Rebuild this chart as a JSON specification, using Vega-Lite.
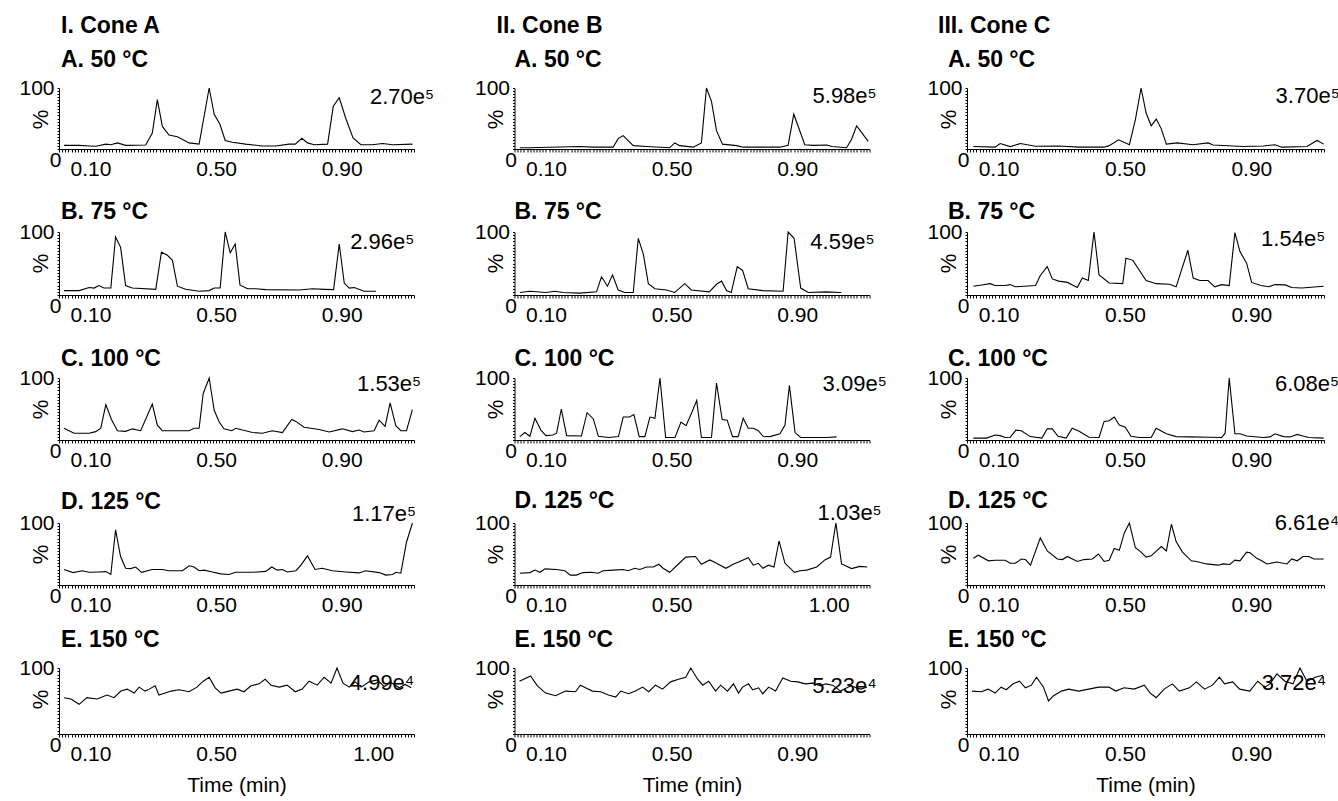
{
  "$schema": "https://vega.github.io/schema/vega-lite/v6.json",
  "padding": {"left": 18, "top": 15, "right": 0, "bottom": 5},
  "config": {
    "font": "Liberation Sans",
    "view": {"stroke": null},
    "axis": {"domainColor": "black", "tickColor": "black", "labelColor": "black", "titleColor": "black", "grid": false, "labelFont": "Liberation Sans", "titleFont": "Liberation Sans", "domainWidth": 1, "tickWidth": 1},
    "axisX": {"tickCount": 113, "tickSize": 3, "labelFontSize": 21, "labelPadding": 6, "labelOverlap": false, "labelFlush": false, "labelBound": false, "titleFontSize": 21, "titleFontWeight": "normal", "titlePadding": 10, "labelAngle": 0},
    "axisY": {"tickCount": 20, "tickSize": 2, "labelFontSize": 21, "labelOverlap": false, "labelFlush": false, "labelBound": false, "titleFontSize": 22, "titleFontWeight": "normal", "titleX": -7, "titleY": 31, "titleAngle": -90, "titleAlign": "center"},
    "title": {"fontSize": 23, "fontWeight": "bold", "anchor": "start", "frame": "group", "color": "black", "offset": 5, "font": "Liberation Sans"},
    "text": {"font": "Liberation Sans", "color": "black", "fontSize": 22}
  },
  "datasets": {
    "IA": [{"t":0.016,"p":6},{"t":0.064,"p":6},{"t":0.096,"p":5},{"t":0.118,"p":4.5},{"t":0.149,"p":8},{"t":0.165,"p":7},{"t":0.186,"p":10},{"t":0.212,"p":6},{"t":0.276,"p":6.5},{"t":0.297,"p":26},{"t":0.313,"p":81},{"t":0.329,"p":37},{"t":0.350,"p":23},{"t":0.377,"p":20},{"t":0.414,"p":10},{"t":0.446,"p":8},{"t":0.478,"p":100},{"t":0.494,"p":57},{"t":0.512,"p":41},{"t":0.529,"p":14},{"t":0.552,"p":11},{"t":0.594,"p":8},{"t":0.647,"p":5},{"t":0.690,"p":5},{"t":0.732,"p":8},{"t":0.752,"p":8},{"t":0.773,"p":17.5},{"t":0.791,"p":10},{"t":0.812,"p":7},{"t":0.855,"p":8},{"t":0.873,"p":70},{"t":0.892,"p":84},{"t":0.913,"p":50},{"t":0.936,"p":18},{"t":0.961,"p":7},{"t":0.997,"p":7},{"t":1.030,"p":9},{"t":1.062,"p":7},{"t":1.125,"p":8}],
    "IIA": [{"t":0.017,"p":2},{"t":0.045,"p":2},{"t":0.208,"p":4},{"t":0.25,"p":3},{"t":0.314,"p":3},{"t":0.330,"p":17},{"t":0.346,"p":22},{"t":0.378,"p":5.5},{"t":0.42,"p":4},{"t":0.494,"p":2},{"t":0.510,"p":10},{"t":0.526,"p":5.5},{"t":0.569,"p":3},{"t":0.595,"p":10},{"t":0.611,"p":100},{"t":0.627,"p":78},{"t":0.643,"p":30},{"t":0.662,"p":8},{"t":0.707,"p":5.5},{"t":0.728,"p":3},{"t":0.845,"p":3},{"t":0.871,"p":6},{"t":0.889,"p":57},{"t":0.924,"p":7},{"t":0.951,"p":6},{"t":0.994,"p":6.5},{"t":1.01,"p":4},{"t":1.057,"p":2},{"t":1.073,"p":16},{"t":1.089,"p":38},{"t":1.126,"p":12.5}],
    "IIIA": [{"t":0.020,"p":4},{"t":0.089,"p":3},{"t":0.105,"p":9},{"t":0.137,"p":4},{"t":0.169,"p":9},{"t":0.217,"p":4.5},{"t":0.29,"p":5},{"t":0.355,"p":3},{"t":0.434,"p":3},{"t":0.45,"p":5.5},{"t":0.480,"p":15},{"t":0.514,"p":7},{"t":0.533,"p":48},{"t":0.551,"p":100},{"t":0.567,"p":59},{"t":0.583,"p":38},{"t":0.599,"p":49},{"t":0.615,"p":33},{"t":0.631,"p":8},{"t":0.666,"p":10},{"t":0.715,"p":7},{"t":0.763,"p":10},{"t":0.779,"p":6.5},{"t":0.875,"p":4},{"t":0.938,"p":5},{"t":0.975,"p":7},{"t":0.996,"p":3},{"t":1.076,"p":4},{"t":1.108,"p":14},{"t":1.129,"p":8}],
    "IB": [{"t":0.016,"p":7},{"t":0.064,"p":7},{"t":0.096,"p":12},{"t":0.112,"p":11},{"t":0.127,"p":15},{"t":0.143,"p":11},{"t":0.165,"p":11},{"t":0.180,"p":92},{"t":0.196,"p":76},{"t":0.212,"p":15},{"t":0.233,"p":11},{"t":0.308,"p":9},{"t":0.326,"p":68},{"t":0.345,"p":63},{"t":0.361,"p":55},{"t":0.377,"p":14},{"t":0.403,"p":9},{"t":0.446,"p":6},{"t":0.478,"p":7},{"t":0.494,"p":11},{"t":0.513,"p":11},{"t":0.529,"p":100},{"t":0.545,"p":67},{"t":0.561,"p":81},{"t":0.576,"p":16},{"t":0.600,"p":10},{"t":0.626,"p":10},{"t":0.658,"p":8.5},{"t":0.764,"p":8},{"t":0.807,"p":10},{"t":0.844,"p":9},{"t":0.874,"p":8.5},{"t":0.892,"p":81},{"t":0.908,"p":19},{"t":0.924,"p":11},{"t":0.94,"p":12},{"t":0.971,"p":6},{"t":1.009,"p":6}],
    "IIB": [{"t":0.017,"p":4},{"t":0.049,"p":6},{"t":0.1,"p":4},{"t":0.128,"p":6},{"t":0.155,"p":4},{"t":0.208,"p":3},{"t":0.261,"p":5},{"t":0.277,"p":29},{"t":0.296,"p":14},{"t":0.312,"p":32},{"t":0.330,"p":8},{"t":0.351,"p":4},{"t":0.378,"p":4},{"t":0.394,"p":90},{"t":0.410,"p":65},{"t":0.426,"p":18},{"t":0.447,"p":10},{"t":0.484,"p":8},{"t":0.51,"p":4},{"t":0.542,"p":18},{"t":0.563,"p":8},{"t":0.62,"p":5},{"t":0.643,"p":17},{"t":0.659,"p":22},{"t":0.675,"p":7},{"t":0.69,"p":4},{"t":0.709,"p":45},{"t":0.726,"p":39},{"t":0.744,"p":10},{"t":0.79,"p":7},{"t":0.855,"p":6},{"t":0.871,"p":100},{"t":0.890,"p":90},{"t":0.911,"p":11},{"t":0.935,"p":4},{"t":0.994,"p":5},{"t":1.036,"p":4},{"t":1.04,"p":4}],
    "IIIB": [{"t":0.020,"p":14},{"t":0.047,"p":16},{"t":0.073,"p":18},{"t":0.089,"p":15},{"t":0.121,"p":15},{"t":0.137,"p":16.5},{"t":0.153,"p":13},{"t":0.217,"p":15},{"t":0.232,"p":31},{"t":0.254,"p":45},{"t":0.270,"p":25.5},{"t":0.29,"p":22},{"t":0.318,"p":20},{"t":0.349,"p":12},{"t":0.365,"p":27},{"t":0.384,"p":23},{"t":0.402,"p":100},{"t":0.418,"p":32},{"t":0.450,"p":19},{"t":0.493,"p":18},{"t":0.503,"p":58.5},{"t":0.525,"p":55},{"t":0.567,"p":23},{"t":0.599,"p":18},{"t":0.641,"p":17},{"t":0.662,"p":13},{"t":0.699,"p":71},{"t":0.716,"p":27},{"t":0.737,"p":23},{"t":0.763,"p":23},{"t":0.784,"p":13},{"t":0.806,"p":16.5},{"t":0.83,"p":15},{"t":0.848,"p":99},{"t":0.864,"p":69},{"t":0.885,"p":50.5},{"t":0.901,"p":20},{"t":0.93,"p":15},{"t":0.955,"p":13},{"t":0.975,"p":16.5},{"t":1.007,"p":16},{"t":1.028,"p":12},{"t":1.06,"p":11},{"t":1.129,"p":14}],
    "IC": [{"t":0.016,"p":19},{"t":0.048,"p":11},{"t":0.096,"p":11},{"t":0.117,"p":13.5},{"t":0.133,"p":19},{"t":0.149,"p":57},{"t":0.167,"p":33},{"t":0.186,"p":15},{"t":0.212,"p":14},{"t":0.234,"p":18},{"t":0.260,"p":15},{"t":0.297,"p":58},{"t":0.313,"p":24},{"t":0.329,"p":15},{"t":0.382,"p":15},{"t":0.414,"p":15},{"t":0.430,"p":19},{"t":0.446,"p":19},{"t":0.459,"p":75},{"t":0.478,"p":100},{"t":0.494,"p":48},{"t":0.51,"p":29},{"t":0.525,"p":18},{"t":0.55,"p":15},{"t":0.563,"p":19},{"t":0.584,"p":16},{"t":0.616,"p":12},{"t":0.647,"p":11},{"t":0.679,"p":15},{"t":0.711,"p":12},{"t":0.741,"p":33},{"t":0.754,"p":30},{"t":0.780,"p":20.5},{"t":0.828,"p":17},{"t":0.860,"p":13},{"t":0.902,"p":18},{"t":0.934,"p":13.5},{"t":0.955,"p":16},{"t":0.971,"p":13},{"t":1.003,"p":15},{"t":1.019,"p":32},{"t":1.038,"p":22},{"t":1.054,"p":60},{"t":1.072,"p":23},{"t":1.088,"p":15},{"t":1.106,"p":15},{"t":1.125,"p":49}],
    "IIC": [{"t":0.017,"p":5.5},{"t":0.033,"p":12},{"t":0.049,"p":6},{"t":0.065,"p":35},{"t":0.084,"p":16},{"t":0.1,"p":7},{"t":0.122,"p":8},{"t":0.134,"p":11},{"t":0.149,"p":50},{"t":0.166,"p":7},{"t":0.213,"p":6.5},{"t":0.231,"p":44},{"t":0.251,"p":34},{"t":0.267,"p":6},{"t":0.299,"p":4},{"t":0.331,"p":5.5},{"t":0.346,"p":37},{"t":0.366,"p":37},{"t":0.380,"p":41},{"t":0.397,"p":5.5},{"t":0.415,"p":5.5},{"t":0.431,"p":37},{"t":0.447,"p":35},{"t":0.463,"p":100},{"t":0.481,"p":4},{"t":0.511,"p":4},{"t":0.530,"p":29},{"t":0.546,"p":23},{"t":0.564,"p":44},{"t":0.580,"p":64},{"t":0.595,"p":4},{"t":0.627,"p":4},{"t":0.643,"p":92},{"t":0.661,"p":33},{"t":0.677,"p":32},{"t":0.694,"p":5.5},{"t":0.712,"p":5.5},{"t":0.728,"p":35},{"t":0.744,"p":19},{"t":0.760,"p":19},{"t":0.776,"p":15},{"t":0.791,"p":6},{"t":0.813,"p":5.5},{"t":0.845,"p":10},{"t":0.861,"p":24},{"t":0.875,"p":88},{"t":0.893,"p":12},{"t":0.911,"p":4},{"t":0.951,"p":4},{"t":0.994,"p":4},{"t":1.025,"p":5}],
    "IIIC": [{"t":0.020,"p":3},{"t":0.062,"p":3},{"t":0.089,"p":8},{"t":0.105,"p":7},{"t":0.121,"p":4},{"t":0.137,"p":4.5},{"t":0.155,"p":16},{"t":0.172,"p":15},{"t":0.2,"p":5.5},{"t":0.237,"p":3},{"t":0.254,"p":18},{"t":0.270,"p":18},{"t":0.288,"p":6},{"t":0.314,"p":3},{"t":0.333,"p":19},{"t":0.355,"p":14},{"t":0.386,"p":4.5},{"t":0.418,"p":4},{"t":0.434,"p":30},{"t":0.450,"p":31},{"t":0.466,"p":37},{"t":0.482,"p":24},{"t":0.501,"p":20.5},{"t":0.519,"p":6},{"t":0.546,"p":4},{"t":0.583,"p":4},{"t":0.599,"p":19},{"t":0.631,"p":10},{"t":0.662,"p":5.5},{"t":0.705,"p":5},{"t":0.768,"p":4.5},{"t":0.806,"p":4},{"t":0.817,"p":11},{"t":0.830,"p":100},{"t":0.848,"p":10},{"t":0.864,"p":10},{"t":0.885,"p":6.5},{"t":0.938,"p":4},{"t":0.959,"p":5},{"t":0.975,"p":10},{"t":1.002,"p":5.5},{"t":1.023,"p":5},{"t":1.045,"p":9},{"t":1.06,"p":7},{"t":1.082,"p":4},{"t":1.129,"p":3}],
    "ID": [{"t":0.016,"p":25},{"t":0.045,"p":20},{"t":0.074,"p":23},{"t":0.096,"p":20.5},{"t":0.127,"p":21},{"t":0.149,"p":21.6},{"t":0.165,"p":17},{"t":0.180,"p":89},{"t":0.196,"p":46},{"t":0.212,"p":27},{"t":0.228,"p":26.5},{"t":0.244,"p":29},{"t":0.263,"p":20.5},{"t":0.297,"p":25},{"t":0.329,"p":25},{"t":0.350,"p":23},{"t":0.393,"p":23},{"t":0.414,"p":31},{"t":0.430,"p":29},{"t":0.446,"p":23},{"t":0.462,"p":24},{"t":0.488,"p":21},{"t":0.515,"p":18},{"t":0.541,"p":17},{"t":0.562,"p":20.5},{"t":0.616,"p":20.5},{"t":0.658,"p":22},{"t":0.677,"p":29},{"t":0.695,"p":24},{"t":0.711,"p":25},{"t":0.727,"p":21},{"t":0.754,"p":23},{"t":0.770,"p":32},{"t":0.791,"p":47},{"t":0.815,"p":25},{"t":0.838,"p":27},{"t":0.870,"p":23},{"t":0.913,"p":21},{"t":0.955,"p":19.5},{"t":0.976,"p":23},{"t":1.019,"p":20},{"t":1.040,"p":16},{"t":1.062,"p":17},{"t":1.072,"p":20.5},{"t":1.088,"p":19},{"t":1.106,"p":69},{"t":1.125,"p":100}],
    "IID": [{"t":0.017,"p":19},{"t":0.049,"p":20},{"t":0.065,"p":24},{"t":0.081,"p":20.5},{"t":0.097,"p":26},{"t":0.134,"p":25},{"t":0.160,"p":23},{"t":0.178,"p":16},{"t":0.197,"p":16},{"t":0.218,"p":20},{"t":0.245,"p":20.5},{"t":0.266,"p":19},{"t":0.282,"p":23},{"t":0.314,"p":24},{"t":0.346,"p":25},{"t":0.362,"p":23},{"t":0.383,"p":27},{"t":0.399,"p":25},{"t":0.420,"p":29},{"t":0.442,"p":29},{"t":0.459,"p":33.5},{"t":0.473,"p":27},{"t":0.494,"p":20.5},{"t":0.521,"p":33.5},{"t":0.545,"p":45},{"t":0.576,"p":46},{"t":0.595,"p":33.5},{"t":0.622,"p":40.5},{"t":0.643,"p":35},{"t":0.673,"p":27},{"t":0.696,"p":33.5},{"t":0.717,"p":38},{"t":0.744,"p":44},{"t":0.760,"p":32},{"t":0.776,"p":35},{"t":0.791,"p":27},{"t":0.808,"p":32},{"t":0.826,"p":29},{"t":0.842,"p":71},{"t":0.861,"p":35},{"t":0.891,"p":20.5},{"t":0.909,"p":23},{"t":0.930,"p":24},{"t":0.962,"p":29},{"t":0.988,"p":40.5},{"t":1.006,"p":45},{"t":1.023,"p":100},{"t":1.041,"p":34},{"t":1.073,"p":26.5},{"t":1.099,"p":30},{"t":1.123,"p":29}],
    "IIID": [{"t":0.020,"p":43},{"t":0.036,"p":48},{"t":0.068,"p":39},{"t":0.089,"p":40},{"t":0.121,"p":40},{"t":0.137,"p":35},{"t":0.153,"p":35},{"t":0.172,"p":42},{"t":0.185,"p":41},{"t":0.201,"p":32},{"t":0.232,"p":76},{"t":0.254,"p":55},{"t":0.286,"p":42},{"t":0.302,"p":41},{"t":0.318,"p":46},{"t":0.349,"p":38},{"t":0.370,"p":41},{"t":0.397,"p":42},{"t":0.416,"p":50},{"t":0.434,"p":38},{"t":0.450,"p":40},{"t":0.466,"p":59},{"t":0.482,"p":56},{"t":0.498,"p":84},{"t":0.514,"p":100},{"t":0.533,"p":60},{"t":0.551,"p":53},{"t":0.567,"p":45},{"t":0.583,"p":47},{"t":0.615,"p":62},{"t":0.631,"p":55},{"t":0.647,"p":98},{"t":0.662,"p":70},{"t":0.682,"p":53},{"t":0.710,"p":39},{"t":0.726,"p":38},{"t":0.758,"p":34},{"t":0.795,"p":32},{"t":0.811,"p":34},{"t":0.832,"p":33},{"t":0.848,"p":40},{"t":0.864,"p":39},{"t":0.885,"p":53},{"t":0.896,"p":52},{"t":0.917,"p":43},{"t":0.933,"p":39},{"t":0.949,"p":34},{"t":0.981,"p":37},{"t":1.013,"p":34},{"t":1.028,"p":42},{"t":1.045,"p":39},{"t":1.064,"p":46},{"t":1.082,"p":46},{"t":1.098,"p":42},{"t":1.129,"p":42}],
    "IE": [{"t":0.016,"p":55},{"t":0.038,"p":53},{"t":0.064,"p":45},{"t":0.089,"p":55},{"t":0.121,"p":53},{"t":0.153,"p":59},{"t":0.175,"p":55},{"t":0.197,"p":65},{"t":0.217,"p":68},{"t":0.239,"p":62},{"t":0.255,"p":71},{"t":0.274,"p":65},{"t":0.287,"p":68},{"t":0.306,"p":73},{"t":0.318,"p":59},{"t":0.338,"p":62},{"t":0.357,"p":65},{"t":0.382,"p":67},{"t":0.414,"p":64},{"t":0.439,"p":71},{"t":0.459,"p":80},{"t":0.478,"p":86},{"t":0.497,"p":70},{"t":0.516,"p":62},{"t":0.541,"p":65},{"t":0.567,"p":68},{"t":0.589,"p":64},{"t":0.611,"p":73},{"t":0.637,"p":76},{"t":0.656,"p":83},{"t":0.675,"p":74},{"t":0.701,"p":71},{"t":0.726,"p":74},{"t":0.752,"p":64},{"t":0.774,"p":68},{"t":0.796,"p":80},{"t":0.822,"p":74},{"t":0.844,"p":86},{"t":0.866,"p":77},{"t":0.885,"p":100},{"t":0.904,"p":77},{"t":0.924,"p":71},{"t":0.943,"p":79},{"t":0.962,"p":71},{"t":0.987,"p":79},{"t":1.013,"p":82},{"t":1.035,"p":72},{"t":1.057,"p":78},{"t":1.083,"p":70},{"t":1.102,"p":75},{"t":1.121,"p":70}],
    "IIE": [{"t":0.016,"p":80},{"t":0.051,"p":88},{"t":0.073,"p":73},{"t":0.099,"p":62},{"t":0.131,"p":58},{"t":0.162,"p":65},{"t":0.194,"p":64},{"t":0.210,"p":74},{"t":0.226,"p":70},{"t":0.248,"p":65},{"t":0.274,"p":64},{"t":0.299,"p":59},{"t":0.322,"p":56},{"t":0.338,"p":65},{"t":0.363,"p":61},{"t":0.385,"p":65},{"t":0.408,"p":71},{"t":0.427,"p":64},{"t":0.449,"p":74},{"t":0.471,"p":68},{"t":0.497,"p":79},{"t":0.522,"p":83},{"t":0.545,"p":86},{"t":0.561,"p":100},{"t":0.583,"p":83},{"t":0.599,"p":74},{"t":0.618,"p":80},{"t":0.640,"p":65},{"t":0.656,"p":74},{"t":0.678,"p":65},{"t":0.697,"p":76},{"t":0.713,"p":62},{"t":0.726,"p":71},{"t":0.745,"p":76},{"t":0.758,"p":67},{"t":0.777,"p":70},{"t":0.790,"p":61},{"t":0.809,"p":71},{"t":0.831,"p":65},{"t":0.854,"p":85},{"t":0.879,"p":80},{"t":0.901,"p":79},{"t":0.927,"p":76},{"t":0.949,"p":77},{"t":0.975,"p":73},{"t":0.990,"p":76},{"t":1.013,"p":74},{"t":1.038,"p":65},{"t":1.070,"p":73},{"t":1.102,"p":68},{"t":1.121,"p":71}],
    "IIIE": [{"t":0.016,"p":65},{"t":0.045,"p":64},{"t":0.067,"p":68},{"t":0.089,"p":62},{"t":0.108,"p":71},{"t":0.124,"p":67},{"t":0.146,"p":76},{"t":0.166,"p":80},{"t":0.185,"p":70},{"t":0.204,"p":74},{"t":0.220,"p":86},{"t":0.242,"p":71},{"t":0.258,"p":50},{"t":0.274,"p":58},{"t":0.299,"p":65},{"t":0.322,"p":68},{"t":0.354,"p":65},{"t":0.385,"p":68},{"t":0.417,"p":71},{"t":0.449,"p":71},{"t":0.471,"p":65},{"t":0.497,"p":70},{"t":0.529,"p":68},{"t":0.561,"p":74},{"t":0.580,"p":62},{"t":0.599,"p":55},{"t":0.624,"p":68},{"t":0.650,"p":76},{"t":0.672,"p":65},{"t":0.704,"p":70},{"t":0.726,"p":79},{"t":0.752,"p":68},{"t":0.777,"p":74},{"t":0.799,"p":86},{"t":0.815,"p":76},{"t":0.841,"p":79},{"t":0.863,"p":68},{"t":0.895,"p":65},{"t":0.920,"p":80},{"t":0.943,"p":71},{"t":0.959,"p":76},{"t":0.981,"p":91},{"t":1.006,"p":80},{"t":1.032,"p":76},{"t":1.054,"p":100},{"t":1.076,"p":80},{"t":1.102,"p":86},{"t":1.127,"p":89}]
  },
  "spacing": 38.5,
  "hconcat": [
    {
      "title": {"text": "I. Cone A", "dx": 2, "offset": 11},
      "bounds": "flush",
      "spacing": 83,
      "vconcat": [
        {"width": 355, "height": 61, "title": {"text": "A. 50 °C", "dx": 2, "offset": 5},
         "layer": [
          {"data": {"name": "IA"}, "mark": {"type": "line", "color": "black", "strokeWidth": 1.1},
           "encoding": {"x": {"field": "t", "type": "quantitative", "scale": {"domain": [0, 1.13]}, "axis": {"title": null, "labelExpr": "indexof(['0.10','0.50','0.90'], format(datum.value, '.2f')) >= 0 ? format(datum.value, '.2f') : ''"}},
                        "y": {"field": "p", "type": "quantitative", "scale": {"domain": [0, 100]}, "axis": {"title": "%", "labelExpr": "datum.value === 0 || datum.value === 100 ? datum.label : ''", "labelBaseline": {"condition": {"test": "datum.value === 0", "value": "top"}, "value": "middle"}, "labelPadding": {"condition": {"test": "datum.value === 0", "value": -4}, "value": 3}}}}},
          {"data": {"values": [{"label": "2.70e⁵"}]}, "mark": {"type": "text", "align": "right", "baseline": "alphabetic"},
           "encoding": {"x": {"datum": 1.194, "type": "quantitative", "scale": {"domain": [0, 1.13]}}, "y": {"datum": 74, "type": "quantitative", "scale": {"domain": [0, 100]}}, "text": {"field": "label"}}}
         ]},
        {"width": 355, "height": 63, "title": {"text": "B. 75 °C", "dx": 2, "offset": -3},
         "layer": [
          {"data": {"name": "IB"}, "mark": {"type": "line", "color": "black", "strokeWidth": 1.1},
           "encoding": {"x": {"field": "t", "type": "quantitative", "scale": {"domain": [0, 1.13]}, "axis": {"title": null, "labelExpr": "indexof(['0.10','0.50','0.90'], format(datum.value, '.2f')) >= 0 ? format(datum.value, '.2f') : ''"}},
                        "y": {"field": "p", "type": "quantitative", "scale": {"domain": [0, 100]}, "axis": {"title": "%", "labelExpr": "datum.value === 0 || datum.value === 100 ? datum.label : ''", "labelBaseline": {"condition": {"test": "datum.value === 0", "value": "top"}, "value": "middle"}, "labelPadding": {"condition": {"test": "datum.value === 0", "value": -4}, "value": 3}}}}},
          {"data": {"values": [{"label": "2.96e⁵"}]}, "mark": {"type": "text", "align": "right", "baseline": "alphabetic"},
           "encoding": {"x": {"datum": 1.131, "type": "quantitative", "scale": {"domain": [0, 1.13]}}, "y": {"datum": 73, "type": "quantitative", "scale": {"domain": [0, 100]}}, "text": {"field": "label"}}}
         ]},
        {"width": 355, "height": 62, "title": {"text": "C. 100 °C", "dx": 2, "offset": -4},
         "layer": [
          {"data": {"name": "IC"}, "mark": {"type": "line", "color": "black", "strokeWidth": 1.1},
           "encoding": {"x": {"field": "t", "type": "quantitative", "scale": {"domain": [0, 1.13]}, "axis": {"title": null, "labelExpr": "indexof(['0.10','0.50','0.90'], format(datum.value, '.2f')) >= 0 ? format(datum.value, '.2f') : ''"}},
                        "y": {"field": "p", "type": "quantitative", "scale": {"domain": [0, 100]}, "axis": {"title": "%", "labelExpr": "datum.value === 0 || datum.value === 100 ? datum.label : ''", "labelBaseline": {"condition": {"test": "datum.value === 0", "value": "top"}, "value": "middle"}, "labelPadding": {"condition": {"test": "datum.value === 0", "value": -4}, "value": 3}}}}},
          {"data": {"values": [{"label": "1.53e⁵"}]}, "mark": {"type": "text", "align": "right", "baseline": "alphabetic"},
           "encoding": {"x": {"datum": 1.153, "type": "quantitative", "scale": {"domain": [0, 1.13]}}, "y": {"datum": 79, "type": "quantitative", "scale": {"domain": [0, 100]}}, "text": {"field": "label"}}}
         ]},
        {"width": 355, "height": 62, "title": {"text": "D. 125 °C", "dx": 2, "offset": -11},
         "layer": [
          {"data": {"name": "ID"}, "mark": {"type": "line", "color": "black", "strokeWidth": 1.1},
           "encoding": {"x": {"field": "t", "type": "quantitative", "scale": {"domain": [0, 1.13]}, "axis": {"title": null, "labelExpr": "indexof(['0.10','0.50','0.90'], format(datum.value, '.2f')) >= 0 ? format(datum.value, '.2f') : ''"}},
                        "y": {"field": "p", "type": "quantitative", "scale": {"domain": [0, 100]}, "axis": {"title": "%", "labelExpr": "datum.value === 0 || datum.value === 100 ? datum.label : ''", "labelBaseline": {"condition": {"test": "datum.value === 0", "value": "top"}, "value": "middle"}, "labelPadding": {"condition": {"test": "datum.value === 0", "value": -4}, "value": 3}}}}},
          {"data": {"values": [{"label": "1.17e⁵"}]}, "mark": {"type": "text", "align": "right", "baseline": "alphabetic"},
           "encoding": {"x": {"datum": 1.137, "type": "quantitative", "scale": {"domain": [0, 1.13]}}, "y": {"datum": 103, "type": "quantitative", "scale": {"domain": [0, 100]}}, "text": {"field": "label"}}}
         ]},
        {"width": 355, "height": 66, "title": {"text": "E. 150 °C", "dx": 2, "offset": 5},
         "layer": [
          {"data": {"name": "IE"}, "mark": {"type": "line", "color": "black", "strokeWidth": 1.1},
           "encoding": {"x": {"field": "t", "type": "quantitative", "scale": {"domain": [0, 1.13]}, "axis": {"title": "Time (min)", "labelExpr": "indexof(['0.10','0.50','1.00'], format(datum.value, '.2f')) >= 0 ? format(datum.value, '.2f') : ''"}},
                        "y": {"field": "p", "type": "quantitative", "scale": {"domain": [0, 100]}, "axis": {"title": "%", "labelExpr": "datum.value === 0 || datum.value === 100 ? datum.label : ''", "labelBaseline": {"condition": {"test": "datum.value === 0", "value": "top"}, "value": "middle"}, "labelPadding": {"condition": {"test": "datum.value === 0", "value": -4}, "value": 3}}}}},
          {"data": {"values": [{"label": "4.99e⁴"}]}, "mark": {"type": "text", "align": "right", "baseline": "alphabetic"},
           "encoding": {"x": {"datum": 1.131, "type": "quantitative", "scale": {"domain": [0, 1.13]}}, "y": {"datum": 66, "type": "quantitative", "scale": {"domain": [0, 100]}}, "text": {"field": "label"}}}
         ]}
      ]
    },
    {
      "title": {"text": "II. Cone B", "dx": -18, "offset": 11},
      "bounds": "flush",
      "spacing": 83,
      "vconcat": [
        {"width": 355, "height": 61, "title": {"text": "A. 50 °C", "dx": 0, "offset": 5},
         "layer": [
          {"data": {"name": "IIA"}, "mark": {"type": "line", "color": "black", "strokeWidth": 1.1},
           "encoding": {"x": {"field": "t", "type": "quantitative", "scale": {"domain": [0, 1.13]}, "axis": {"title": null, "labelExpr": "indexof(['0.10','0.50','0.90'], format(datum.value, '.2f')) >= 0 ? format(datum.value, '.2f') : ''"}},
                        "y": {"field": "p", "type": "quantitative", "scale": {"domain": [0, 100]}, "axis": {"title": "%", "labelExpr": "datum.value === 0 || datum.value === 100 ? datum.label : ''", "labelBaseline": {"condition": {"test": "datum.value === 0", "value": "top"}, "value": "middle"}, "labelPadding": {"condition": {"test": "datum.value === 0", "value": -4}, "value": 3}}}}},
          {"data": {"values": [{"label": "5.98e⁵"}]}, "mark": {"type": "text", "align": "right", "baseline": "alphabetic"},
           "encoding": {"x": {"datum": 1.153, "type": "quantitative", "scale": {"domain": [0, 1.13]}}, "y": {"datum": 75, "type": "quantitative", "scale": {"domain": [0, 100]}}, "text": {"field": "label"}}}
         ]},
        {"width": 355, "height": 63, "title": {"text": "B. 75 °C", "dx": 0, "offset": -3},
         "layer": [
          {"data": {"name": "IIB"}, "mark": {"type": "line", "color": "black", "strokeWidth": 1.1},
           "encoding": {"x": {"field": "t", "type": "quantitative", "scale": {"domain": [0, 1.13]}, "axis": {"title": null, "labelExpr": "indexof(['0.10','0.50','0.90'], format(datum.value, '.2f')) >= 0 ? format(datum.value, '.2f') : ''"}},
                        "y": {"field": "p", "type": "quantitative", "scale": {"domain": [0, 100]}, "axis": {"title": "%", "labelExpr": "datum.value === 0 || datum.value === 100 ? datum.label : ''", "labelBaseline": {"condition": {"test": "datum.value === 0", "value": "top"}, "value": "middle"}, "labelPadding": {"condition": {"test": "datum.value === 0", "value": -4}, "value": 3}}}}},
          {"data": {"values": [{"label": "4.59e⁵"}]}, "mark": {"type": "text", "align": "right", "baseline": "alphabetic"},
           "encoding": {"x": {"datum": 1.146, "type": "quantitative", "scale": {"domain": [0, 1.13]}}, "y": {"datum": 73, "type": "quantitative", "scale": {"domain": [0, 100]}}, "text": {"field": "label"}}}
         ]},
        {"width": 355, "height": 62, "title": {"text": "C. 100 °C", "dx": 0, "offset": -4},
         "layer": [
          {"data": {"name": "IIC"}, "mark": {"type": "line", "color": "black", "strokeWidth": 1.1},
           "encoding": {"x": {"field": "t", "type": "quantitative", "scale": {"domain": [0, 1.13]}, "axis": {"title": null, "labelExpr": "indexof(['0.10','0.50','0.90'], format(datum.value, '.2f')) >= 0 ? format(datum.value, '.2f') : ''"}},
                        "y": {"field": "p", "type": "quantitative", "scale": {"domain": [0, 100]}, "axis": {"title": "%", "labelExpr": "datum.value === 0 || datum.value === 100 ? datum.label : ''", "labelBaseline": {"condition": {"test": "datum.value === 0", "value": "top"}, "value": "middle"}, "labelPadding": {"condition": {"test": "datum.value === 0", "value": -4}, "value": 3}}}}},
          {"data": {"values": [{"label": "3.09e⁵"}]}, "mark": {"type": "text", "align": "right", "baseline": "alphabetic"},
           "encoding": {"x": {"datum": 1.185, "type": "quantitative", "scale": {"domain": [0, 1.13]}}, "y": {"datum": 79, "type": "quantitative", "scale": {"domain": [0, 100]}}, "text": {"field": "label"}}}
         ]},
        {"width": 355, "height": 62, "title": {"text": "D. 125 °C", "dx": 0, "offset": -11},
         "layer": [
          {"data": {"name": "IID"}, "mark": {"type": "line", "color": "black", "strokeWidth": 1.1},
           "encoding": {"x": {"field": "t", "type": "quantitative", "scale": {"domain": [0, 1.13]}, "axis": {"title": null, "labelExpr": "indexof(['0.10','0.50','1.00'], format(datum.value, '.2f')) >= 0 ? format(datum.value, '.2f') : ''"}},
                        "y": {"field": "p", "type": "quantitative", "scale": {"domain": [0, 100]}, "axis": {"title": "%", "labelExpr": "datum.value === 0 || datum.value === 100 ? datum.label : ''", "labelBaseline": {"condition": {"test": "datum.value === 0", "value": "top"}, "value": "middle"}, "labelPadding": {"condition": {"test": "datum.value === 0", "value": -4}, "value": 3}}}}},
          {"data": {"values": [{"label": "1.03e⁵"}]}, "mark": {"type": "text", "align": "right", "baseline": "alphabetic"},
           "encoding": {"x": {"datum": 1.169, "type": "quantitative", "scale": {"domain": [0, 1.13]}}, "y": {"datum": 105, "type": "quantitative", "scale": {"domain": [0, 100]}}, "text": {"field": "label"}}}
         ]},
        {"width": 355, "height": 66, "title": {"text": "E. 150 °C", "dx": 0, "offset": 5},
         "layer": [
          {"data": {"name": "IIE"}, "mark": {"type": "line", "color": "black", "strokeWidth": 1.1},
           "encoding": {"x": {"field": "t", "type": "quantitative", "scale": {"domain": [0, 1.13]}, "axis": {"title": "Time (min)", "labelExpr": "indexof(['0.10','0.50','0.90'], format(datum.value, '.2f')) >= 0 ? format(datum.value, '.2f') : ''"}},
                        "y": {"field": "p", "type": "quantitative", "scale": {"domain": [0, 100]}, "axis": {"title": "%", "labelExpr": "datum.value === 0 || datum.value === 100 ? datum.label : ''", "labelBaseline": {"condition": {"test": "datum.value === 0", "value": "top"}, "value": "middle"}, "labelPadding": {"condition": {"test": "datum.value === 0", "value": -4}, "value": 3}}}}},
          {"data": {"values": [{"label": "5.23e⁴"}]}, "mark": {"type": "text", "align": "right", "baseline": "alphabetic"},
           "encoding": {"x": {"datum": 1.153, "type": "quantitative", "scale": {"domain": [0, 1.13]}}, "y": {"datum": 62, "type": "quantitative", "scale": {"domain": [0, 100]}}, "text": {"field": "label"}}}
         ]}
      ]
    },
    {
      "title": {"text": "III. Cone C", "dx": -29, "offset": 11},
      "bounds": "flush",
      "spacing": 83,
      "vconcat": [
        {"width": 357, "height": 61, "title": {"text": "A. 50 °C", "dx": -19, "offset": 5},
         "layer": [
          {"data": {"name": "IIIA"}, "mark": {"type": "line", "color": "black", "strokeWidth": 1.1},
           "encoding": {"x": {"field": "t", "type": "quantitative", "scale": {"domain": [0, 1.13]}, "axis": {"title": null, "labelExpr": "indexof(['0.10','0.50','0.90'], format(datum.value, '.2f')) >= 0 ? format(datum.value, '.2f') : ''"}},
                        "y": {"field": "p", "type": "quantitative", "scale": {"domain": [0, 100]}, "axis": {"title": "%", "labelExpr": "datum.value === 0 || datum.value === 100 ? datum.label : ''", "labelBaseline": {"condition": {"test": "datum.value === 0", "value": "top"}, "value": "middle"}, "labelPadding": {"condition": {"test": "datum.value === 0", "value": -4}, "value": 3}}}}},
          {"data": {"values": [{"label": "3.70e⁵"}]}, "mark": {"type": "text", "align": "right", "baseline": "alphabetic"},
           "encoding": {"x": {"datum": 1.18, "type": "quantitative", "scale": {"domain": [0, 1.13]}}, "y": {"datum": 75, "type": "quantitative", "scale": {"domain": [0, 100]}}, "text": {"field": "label"}}}
         ]},
        {"width": 357, "height": 63, "title": {"text": "B. 75 °C", "dx": -19, "offset": -3},
         "layer": [
          {"data": {"name": "IIIB"}, "mark": {"type": "line", "color": "black", "strokeWidth": 1.1},
           "encoding": {"x": {"field": "t", "type": "quantitative", "scale": {"domain": [0, 1.13]}, "axis": {"title": null, "labelExpr": "indexof(['0.10','0.50','0.90'], format(datum.value, '.2f')) >= 0 ? format(datum.value, '.2f') : ''"}},
                        "y": {"field": "p", "type": "quantitative", "scale": {"domain": [0, 100]}, "axis": {"title": "%", "labelExpr": "datum.value === 0 || datum.value === 100 ? datum.label : ''", "labelBaseline": {"condition": {"test": "datum.value === 0", "value": "top"}, "value": "middle"}, "labelPadding": {"condition": {"test": "datum.value === 0", "value": -4}, "value": 3}}}}},
          {"data": {"values": [{"label": "1.54e⁵"}]}, "mark": {"type": "text", "align": "right", "baseline": "alphabetic"},
           "encoding": {"x": {"datum": 1.134, "type": "quantitative", "scale": {"domain": [0, 1.13]}}, "y": {"datum": 78, "type": "quantitative", "scale": {"domain": [0, 100]}}, "text": {"field": "label"}}}
         ]},
        {"width": 357, "height": 62, "title": {"text": "C. 100 °C", "dx": -19, "offset": -4},
         "layer": [
          {"data": {"name": "IIIC"}, "mark": {"type": "line", "color": "black", "strokeWidth": 1.1},
           "encoding": {"x": {"field": "t", "type": "quantitative", "scale": {"domain": [0, 1.13]}, "axis": {"title": null, "labelExpr": "indexof(['0.10','0.50','0.90'], format(datum.value, '.2f')) >= 0 ? format(datum.value, '.2f') : ''"}},
                        "y": {"field": "p", "type": "quantitative", "scale": {"domain": [0, 100]}, "axis": {"title": "%", "labelExpr": "datum.value === 0 || datum.value === 100 ? datum.label : ''", "labelBaseline": {"condition": {"test": "datum.value === 0", "value": "top"}, "value": "middle"}, "labelPadding": {"condition": {"test": "datum.value === 0", "value": -4}, "value": 3}}}}},
          {"data": {"values": [{"label": "6.08e⁵"}]}, "mark": {"type": "text", "align": "right", "baseline": "alphabetic"},
           "encoding": {"x": {"datum": 1.178, "type": "quantitative", "scale": {"domain": [0, 1.13]}}, "y": {"datum": 79, "type": "quantitative", "scale": {"domain": [0, 100]}}, "text": {"field": "label"}}}
         ]},
        {"width": 357, "height": 62, "title": {"text": "D. 125 °C", "dx": -19, "offset": -1},
         "layer": [
          {"data": {"name": "IIID"}, "mark": {"type": "line", "color": "black", "strokeWidth": 1.1},
           "encoding": {"x": {"field": "t", "type": "quantitative", "scale": {"domain": [0, 1.13]}, "axis": {"title": null, "labelExpr": "indexof(['0.10','0.50','0.90'], format(datum.value, '.2f')) >= 0 ? format(datum.value, '.2f') : ''"}},
                        "y": {"field": "p", "type": "quantitative", "scale": {"domain": [0, 100]}, "axis": {"title": "%", "labelExpr": "datum.value === 0 || datum.value === 100 ? datum.label : ''", "labelBaseline": {"condition": {"test": "datum.value === 0", "value": "top"}, "value": "middle"}, "labelPadding": {"condition": {"test": "datum.value === 0", "value": -4}, "value": 3}}}}},
          {"data": {"values": [{"label": "6.61e⁴"}]}, "mark": {"type": "text", "align": "right", "baseline": "alphabetic"},
           "encoding": {"x": {"datum": 1.178, "type": "quantitative", "scale": {"domain": [0, 1.13]}}, "y": {"datum": 89, "type": "quantitative", "scale": {"domain": [0, 100]}}, "text": {"field": "label"}}}
         ]},
        {"width": 357, "height": 66, "title": {"text": "E. 150 °C", "dx": -19, "offset": 5},
         "layer": [
          {"data": {"name": "IIIE"}, "mark": {"type": "line", "color": "black", "strokeWidth": 1.1},
           "encoding": {"x": {"field": "t", "type": "quantitative", "scale": {"domain": [0, 1.13]}, "axis": {"title": "Time (min)", "labelExpr": "indexof(['0.10','0.50','0.90'], format(datum.value, '.2f')) >= 0 ? format(datum.value, '.2f') : ''"}},
                        "y": {"field": "p", "type": "quantitative", "scale": {"domain": [0, 100]}, "axis": {"title": "%", "labelExpr": "datum.value === 0 || datum.value === 100 ? datum.label : ''", "labelBaseline": {"condition": {"test": "datum.value === 0", "value": "top"}, "value": "middle"}, "labelPadding": {"condition": {"test": "datum.value === 0", "value": -4}, "value": 3}}}}},
          {"data": {"values": [{"label": "3.72e⁴"}]}, "mark": {"type": "text", "align": "right", "baseline": "alphabetic"},
           "encoding": {"x": {"datum": 1.137, "type": "quantitative", "scale": {"domain": [0, 1.13]}}, "y": {"datum": 67, "type": "quantitative", "scale": {"domain": [0, 100]}}, "text": {"field": "label"}}}
         ]}
      ]
    }
  ]
}
